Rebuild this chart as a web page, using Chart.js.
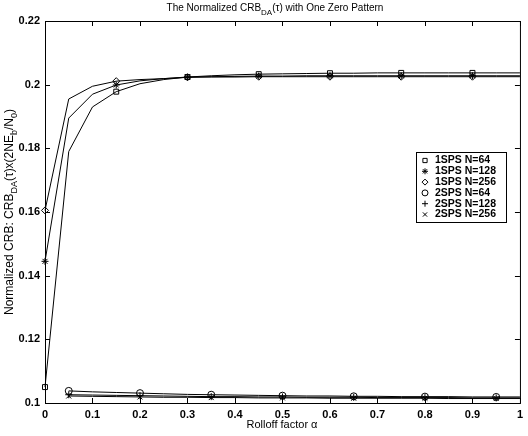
<!DOCTYPE html>
<html>
<head>
<meta charset="utf-8">
<script src="https://cdn.jsdelivr.net/npm/chart.js@4"></script>
<style>
  html, body { margin: 0; padding: 0; background: #fff; }
  #wrap { width: 528px; height: 436px; }
</style>
</head>
<body>
<div id="wrap"><canvas id="crbChart" width="528" height="436"></canvas></div>
<script>
// Rolloff factor values
const alpha1 = [0, 0.05, 0.1, 0.15, 0.2, 0.25, 0.3, 0.35, 0.4, 0.45, 0.5,
  0.55, 0.6, 0.65, 0.7, 0.75, 0.8, 0.85, 0.9, 0.95, 1];
const alpha2 = alpha1.slice(1);

// 1 sample per symbol
const sps1N64 = [0.105, 0.179, 0.193, 0.1978, 0.2003, 0.2016, 0.2024, 0.2028, 0.2031, 0.2033,
  0.2034, 0.2035, 0.2036, 0.2036, 0.2037, 0.2037, 0.2037, 0.2037, 0.2037, 0.2037, 0.2037];
const sps1N128 = [0.1445, 0.1895, 0.197, 0.1999, 0.2012, 0.2019, 0.2024, 0.2025, 0.2026, 0.2027,
  0.2027, 0.2028, 0.2028, 0.2028, 0.2028, 0.2028, 0.2028, 0.2028, 0.2028, 0.2028, 0.2028];
const sps1N256 = [0.1605, 0.1955, 0.1995, 0.2011, 0.2016, 0.2019, 0.2023, 0.2024, 0.2024, 0.2025,
  0.2025, 0.2025, 0.2025, 0.2025, 0.2025, 0.2025, 0.2025, 0.2025, 0.2025, 0.2025, 0.2025];

// 2 samples per symbol (start at 0.05)
const sps2N64 = [0.1038, 0.1035, 0.1033, 0.1031, 0.1029, 0.1027, 0.1026, 0.1025, 0.1024, 0.1023,
  0.1022, 0.1022, 0.1021, 0.1021, 0.102, 0.102, 0.102, 0.1019, 0.1019, 0.1019];
const sps2N128 = [0.1026, 0.1025, 0.1024, 0.1023, 0.1022, 0.1021, 0.102, 0.102, 0.1019, 0.1019,
  0.1018, 0.1018, 0.1018, 0.1017, 0.1017, 0.1017, 0.1017, 0.1016, 0.1016, 0.1016];
const sps2N256 = [0.1022, 0.1021, 0.102, 0.1019, 0.1018, 0.1018, 0.1017, 0.1017, 0.1016, 0.1016,
  0.1016, 0.1015, 0.1015, 0.1015, 0.1015, 0.1015, 0.1014, 0.1014, 0.1014, 0.1014];

const seriesLabels = ["1SPS N=64", "1SPS N=128", "1SPS N=256", "2SPS N=64", "2SPS N=128", "2SPS N=256"];
const markerStyles = ["rect", "star", "rectRot", "circle", "cross", "crossRot"];

const xTicks = [0, 0.1, 0.2, 0.3, 0.4, 0.5, 0.6, 0.7, 0.8, 0.9, 1];
const yTicks = [0.1, 0.12, 0.14, 0.16, 0.18, 0.2, 0.22];

const FONT = '"Liberation Sans", Arial, sans-serif';

const toPoints = (xs, ys) => xs.map((x, i) => ({ x, y: ys[i] }));

// markers only every third sample, like the original plot
const makeDataset = (label, xs, ys, style) => ({
  label,
  data: toPoints(xs, ys),
  borderColor: "#000",
  borderWidth: 1,
  pointStyle: style,
  pointBorderColor: "#000",
  pointBackgroundColor: "rgba(0,0,0,0)",
  pointBorderWidth: 1,
  pointRadius: (ctx) => (ctx.dataIndex % 3 === 0 ? 3.5 : 0),
  pointHoverRadius: 0,
  tension: 0,
  clip: false,
});

const allSeries = [
  [alpha1, sps1N64], [alpha1, sps1N128], [alpha1, sps1N256],
  [alpha2, sps2N64], [alpha2, sps2N128], [alpha2, sps2N256],
];

// draw text made of normal and subscript parts
const drawRichText = (ctx, parts, x, y, size, align, weight = "normal") => {
  const subSize = Math.round(size * 0.75);
  let total = 0;
  parts.forEach((p) => {
    ctx.font = `${weight} ${p.sub ? subSize : size}px ${FONT}`;
    total += ctx.measureText(p.t).width;
  });
  let cx = align === "center" ? x - total / 2 : x;
  ctx.textAlign = "left";
  ctx.textBaseline = "alphabetic";
  parts.forEach((p) => {
    ctx.font = `${weight} ${p.sub ? subSize : size}px ${FONT}`;
    ctx.fillText(p.t, cx, p.sub ? y + size * 0.35 : y);
    cx += ctx.measureText(p.t).width;
  });
};

const framePlugin = {
  id: "frame",
  afterDraw(chart) {
    const { ctx, chartArea: a, scales } = chart;
    ctx.save();
    ctx.strokeStyle = "#000";
    ctx.fillStyle = "#000";
    ctx.lineWidth = 1;
    ctx.strokeRect(a.left + 0.5, a.top + 0.5, a.right - a.left, a.bottom - a.top);

    // inward tick marks on all four sides
    const len = 5;
    ctx.beginPath();
    xTicks.forEach((v) => {
      const px = Math.round(scales.x.getPixelForValue(v)) + 0.5;
      ctx.moveTo(px, a.bottom); ctx.lineTo(px, a.bottom - len);
      ctx.moveTo(px, a.top); ctx.lineTo(px, a.top + len);
    });
    yTicks.forEach((v) => {
      const py = Math.round(scales.y.getPixelForValue(v)) + 0.5;
      ctx.moveTo(a.left, py); ctx.lineTo(a.left + len, py);
      ctx.moveTo(a.right, py); ctx.lineTo(a.right - len, py);
    });
    ctx.stroke();

    // title
    drawRichText(ctx, [
      { t: "The Normalized CRB" }, { t: "DA", sub: true },
      { t: "(\u03c4) with One Zero Pattern" },
    ], 275, 11, 10, "center");

    // x axis label
    ctx.font = `11px ${FONT}`;
    ctx.textAlign = "center";
    ctx.textBaseline = "alphabetic";
    ctx.fillText("Rolloff factor \u03b1", 282, 428);

    // y axis label
    ctx.save();
    ctx.translate(13, 212);
    ctx.rotate(-Math.PI / 2);
    drawRichText(ctx, [
      { t: "Normalized CRB: CRB" }, { t: "DA", sub: true }, { t: "(\u03c4)x(2NE" },
      { t: "b", sub: true }, { t: "/N" }, { t: "0", sub: true }, { t: ")" },
    ], 0, 0, 12, "center");
    ctx.restore();

    // legend box
    const lx = 416, ly = 152, lw = 90, lh = 70;
    ctx.fillStyle = "#fff";
    ctx.fillRect(lx, ly, lw, lh);
    ctx.strokeRect(lx + 0.5, ly + 0.5, lw, lh);
    ctx.textAlign = "left";
    ctx.textBaseline = "middle";
    seriesLabels.forEach((label, i) => {
      const ry = ly + 8.5 + i * 10.8;
      ctx.fillStyle = "rgba(0,0,0,0)";
      ctx.strokeStyle = "#000";
      Chart.helpers.drawPoint(ctx, { pointStyle: markerStyles[i], radius: 3, borderWidth: 1 }, lx + 9, ry);
      ctx.fillStyle = "#000";
      ctx.font = `bold 10.5px ${FONT}`;
      ctx.fillText(label, lx + 19, ry);
    });
    ctx.restore();
  },
};

new Chart(document.getElementById("crbChart").getContext("2d"), {
  type: "line",
  data: {
    datasets: allSeries.map(([xs, ys], i) => makeDataset(seriesLabels[i], xs, ys, markerStyles[i])),
  },
  options: {
    responsive: false,
    animation: false,
    layout: { padding: { top: 21, right: 8, left: 0, bottom: 0 } },
    plugins: {
      legend: { display: false },
      title: { display: false },
      tooltip: { enabled: false },
    },
    scales: {
      x: {
        type: "linear",
        min: 0,
        max: 1,
        afterBuildTicks: (scale) => { scale.ticks = xTicks.map((v) => ({ value: v })); },
        afterFit: (scale) => { scale.height = 33; },
        grid: { display: false, drawTicks: false },
        border: { display: false },
        ticks: {
          color: "#000",
          font: { family: FONT, size: 11, weight: "bold" },
          padding: 5,
          maxRotation: 0,
          callback: (v) => String(+v.toFixed(2)),
        },
      },
      y: {
        type: "linear",
        min: 0.1,
        max: 0.22,
        afterBuildTicks: (scale) => { scale.ticks = yTicks.map((v) => ({ value: v })); },
        afterFit: (scale) => { scale.width = 45; },
        grid: { display: false, drawTicks: false },
        border: { display: false },
        ticks: {
          color: "#000",
          font: { family: FONT, size: 11, weight: "bold" },
          padding: 5,
          callback: (v) => String(+v.toFixed(2)),
        },
      },
    },
  },
  plugins: [framePlugin],
});
</script>
</body>
</html>
